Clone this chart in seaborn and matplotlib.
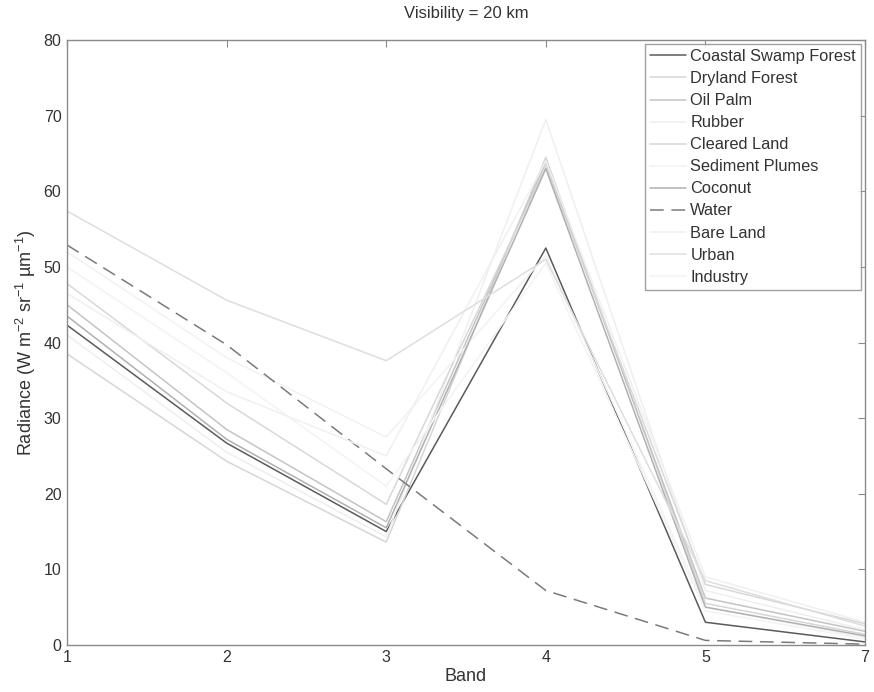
import matplotlib
matplotlib.use("Agg")
import matplotlib.pyplot as plt
import seaborn as sns
import pandas as pd

# Landsat TM bands (band 6, thermal, is not used)
bands = ["1", "2", "3", "4", "5", "7"]

coastal_swamp_forest = [42.3, 26.7, 15.0, 52.5, 3.0, 0.4]
dryland_forest = [38.5, 24.3, 13.6, 64.5, 5.5, 1.4]
oil_palm = [45.0, 28.5, 16.3, 63.8, 6.2, 1.8]
rubber = [41.0, 25.5, 14.3, 69.5, 7.2, 2.0]
cleared_land = [47.8, 32.0, 18.6, 63.2, 8.0, 2.8]
sediment_plumes = [52.0, 38.0, 27.5, 51.5, 5.0, 1.0]
coconut = [43.5, 27.2, 15.5, 63.0, 5.0, 1.2]
water = [52.9, 39.7, 23.3, 7.2, 0.6, 0.1]
bare_land = [46.5, 33.5, 25.0, 64.0, 9.0, 3.0]
urban = [57.4, 45.6, 37.6, 51.0, 8.5, 2.5]
industry = [50.0, 36.0, 21.0, 50.5, 4.5, 0.8]

names = ["Coastal Swamp Forest", "Dryland Forest", "Oil Palm", "Rubber",
         "Cleared Land", "Sediment Plumes", "Coconut", "Water",
         "Bare Land", "Urban", "Industry"]
series = [coastal_swamp_forest, dryland_forest, oil_palm, rubber,
          cleared_land, sediment_plumes, coconut, water,
          bare_land, urban, industry]

colors = ["#5a5a5a", "#d6d6d6", "#c4c4c4", "#efefef", "#d8d8d8", "#f2f2f2",
          "#b0b0b0", "#7a7a7a", "#f0f0f0", "#dedede", "#f3f3f3"]
dashes = {n: "" for n in names}
dashes["Water"] = (9, 5)

rows = []
for name, vals in zip(names, series):
    for i, v in enumerate(vals):
        rows.append({"pos": i + 1, "Radiance": v, "Class": name})
df = pd.DataFrame(rows)

sns.set_style("white")
plt.rcParams["font.family"] = ["Liberation Sans", "DejaVu Sans"]

fig = plt.figure(figsize=(8.74, 6.92), dpi=100)
ax = fig.add_axes([0.0767, 0.068, 0.913, 0.874])

sns.lineplot(data=df, x="pos", y="Radiance", hue="Class", style="Class",
             hue_order=names, style_order=names,
             palette=dict(zip(names, colors)), dashes=dashes,
             linewidth=1.1, ax=ax, legend=True)

ax.set_xlim(1, 6)
ax.set_ylim(0, 80)
ax.set_xticks(range(1, 7))
ax.set_xticklabels(bands)
ax.set_yticks(range(0, 81, 10))

axis_col = "#8a8a8a"
for sp in ax.spines.values():
    sp.set_visible(True)
    sp.set_color(axis_col)
    sp.set_linewidth(1.0)
ax.tick_params(direction="in", length=5, width=0.8, color=axis_col,
               top=True, right=True, labelsize=11.5, labelcolor="#333333",
               pad=4)

ax.set_xlabel("Band", fontsize=13, color="#333333", labelpad=2)
ax.set_ylabel("Radiance (W m$^{\\mathregular{-2}}$ sr$^{\\mathregular{-1}}$ µm$^{\\mathregular{-1}}$)",
              fontsize=13, color="#333333", labelpad=4)
ax.set_title("Visibility = 20 km", fontsize=12, color="#333333", pad=16)

leg = ax.legend(loc="upper right", fontsize=11.8, frameon=True, fancybox=False,
                handlelength=2.2, handletextpad=0.25, labelspacing=0.43,
                borderpad=0.3, borderaxespad=0.25)
leg.get_frame().set_edgecolor(axis_col)
leg.get_frame().set_linewidth(1.0)
for t in leg.get_texts():
    t.set_color("#333333")

fig.savefig("out.png", dpi=100)
